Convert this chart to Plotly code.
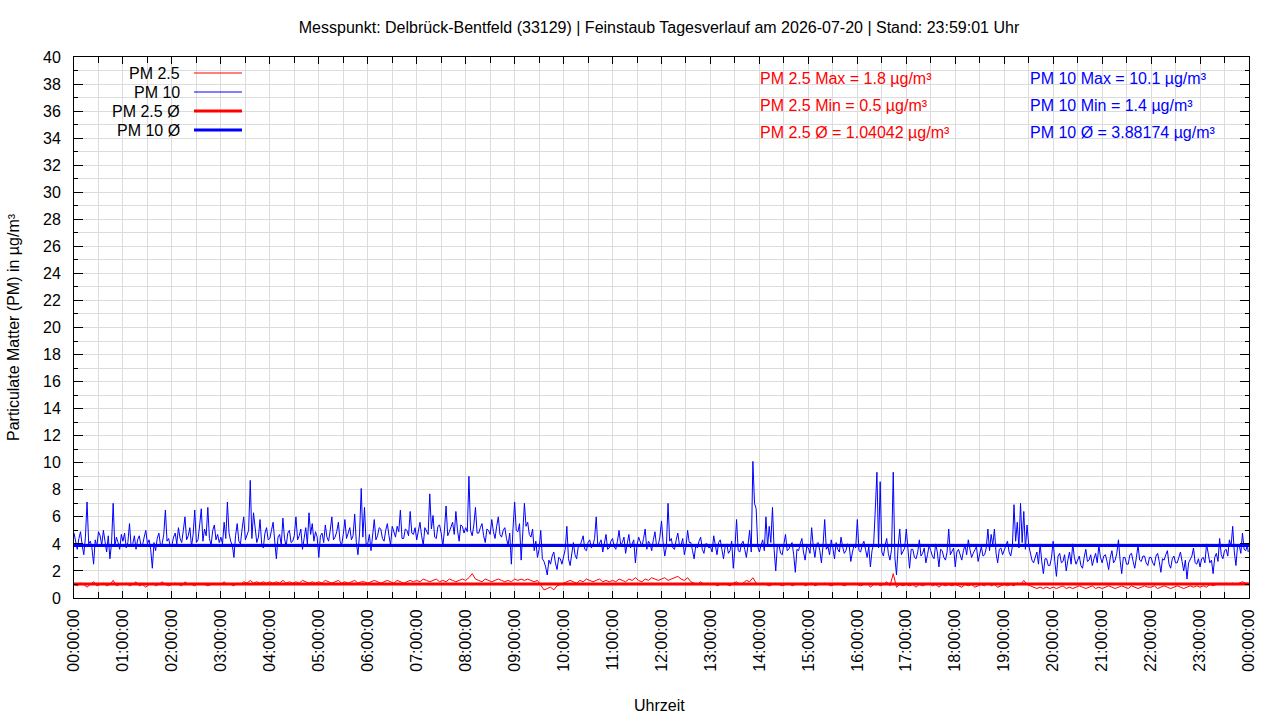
import plotly.graph_objects as go
from datetime import datetime, timedelta

# ---------------- data ----------------
DAY = "2026-07-20"
PM10_SAMPLE_MINUTES = 2     # PM 10: one reading every 2 minutes (30 per hour)
PM25_SAMPLE_MINUTES = 4     # PM 2.5: one reading every 4 minutes (15 per hour)
LAST_TIME = "2026-07-20 23:59:01"

# PM 10 readings, one row per hour (µg/m³)
pm10_rows = [
    [4.8, 4.1, 3.6, 4.4, 4.9, 3.9, 3.2, 4.5, 7.1, 4.0, 4.2, 3.7, 2.5, 4.3, 3.8, 4.9, 4.6, 3.9, 5.0, 4.2, 3.4, 4.6, 2.9, 4.0, 7.0, 3.8, 4.5, 4.1, 3.6, 4.7],
    [4.2, 4.8, 3.7, 4.1, 5.5, 3.8, 4.0, 4.6, 3.6, 4.3, 4.6, 3.9, 3.9, 4.5, 5.0, 4.0, 4.3, 3.6, 2.2, 4.1, 3.5, 4.4, 4.8, 3.9, 4.0, 4.7, 6.5, 4.2, 4.4, 3.8],
    [3.9, 4.5, 4.8, 4.0, 5.2, 4.4, 4.1, 5.0, 6.0, 4.3, 4.6, 5.2, 3.8, 4.7, 6.5, 4.1, 4.3, 5.4, 6.6, 4.2, 5.1, 4.6, 6.7, 4.4, 3.9, 5.0, 5.4, 4.3, 4.7, 4.1],
    [4.5, 4.0, 5.6, 4.4, 7.1, 4.8, 4.2, 3.9, 3.0, 4.6, 5.5, 4.2, 4.0, 5.1, 6.0, 4.3, 4.6, 5.0, 8.7, 4.4, 6.3, 4.9, 4.1, 4.5, 5.8, 4.0, 3.7, 4.8, 5.2, 4.3],
    [4.4, 5.0, 5.6, 4.2, 2.9, 4.5, 4.7, 3.9, 5.9, 4.4, 3.8, 4.8, 5.0, 4.1, 4.2, 4.6, 6.0, 4.3, 4.6, 5.1, 3.6, 4.4, 5.2, 4.0, 6.3, 4.7, 5.5, 4.2, 4.9, 4.5],
    [3.0, 4.6, 4.8, 4.1, 5.4, 4.5, 4.2, 5.0, 6.0, 4.3, 4.5, 4.9, 5.6, 4.2, 3.9, 4.7, 5.8, 4.4, 4.9, 5.2, 4.3, 4.6, 6.2, 4.1, 3.2, 4.8, 8.1, 4.5, 6.7, 4.0],
    [4.0, 4.7, 3.5, 4.9, 5.8, 4.3, 4.6, 5.2, 5.1, 4.4, 4.2, 5.0, 5.5, 4.6, 3.9, 5.3, 4.8, 4.5, 5.3, 4.9, 6.5, 4.4, 4.4, 5.1, 5.0, 4.6, 6.4, 4.8, 4.7, 5.2],
    [4.3, 5.0, 5.6, 4.6, 3.9, 5.2, 5.0, 4.7, 7.7, 5.1, 6.1, 4.5, 4.4, 5.3, 5.4, 4.8, 3.8, 5.0, 6.8, 4.6, 4.9, 5.3, 5.6, 4.7, 6.4, 5.0, 4.2, 5.4, 5.3, 4.8],
    [5.2, 4.9, 9.0, 5.0, 4.6, 5.4, 6.7, 4.8, 4.8, 5.2, 5.5, 4.6, 4.1, 5.1, 5.0, 4.7, 5.8, 4.9, 4.4, 5.3, 6.0, 4.7, 4.5, 5.0, 5.2, 4.4, 3.9, 4.8, 2.5, 5.1],
    [7.1, 5.0, 4.9, 5.5, 2.8, 4.8, 7.0, 5.3, 5.6, 4.7, 4.5, 5.1, 3.5, 4.2, 3.0, 3.6, 5.0, 2.9, 2.7, 2.3, 1.7, 2.8, 2.5, 3.1, 3.4, 2.6, 2.1, 3.0, 2.9, 2.5],
    [3.0, 3.6, 5.3, 2.9, 2.4, 3.5, 4.1, 3.2, 2.9, 3.8, 3.8, 4.2, 4.6, 3.6, 3.5, 4.1, 4.3, 3.7, 3.9, 4.4, 6.0, 3.8, 4.0, 4.3, 3.4, 4.0, 4.7, 3.6, 3.7, 4.2],
    [4.4, 3.8, 3.6, 4.2, 5.0, 3.9, 4.1, 4.5, 3.3, 4.0, 4.7, 3.7, 4.0, 4.3, 2.6, 3.9, 4.5, 4.1, 3.8, 4.4, 5.1, 3.6, 4.2, 4.0, 3.5, 4.3, 4.9, 3.8, 3.9, 4.5],
    [5.7, 4.1, 3.1, 3.8, 7.0, 4.2, 4.4, 3.7, 3.6, 4.3, 4.8, 3.9, 3.9, 4.4, 3.2, 3.8, 5.0, 4.1, 4.1, 3.5, 2.9, 3.9, 3.7, 4.2, 4.5, 3.6, 3.3, 4.0, 4.0, 3.7],
    [3.8, 3.4, 4.6, 3.9, 3.2, 4.1, 4.3, 3.6, 2.9, 3.8, 4.0, 3.3, 3.5, 4.2, 2.2, 3.7, 5.8, 3.5, 3.4, 4.0, 4.2, 3.6, 3.0, 3.9, 5.0, 3.4, 10.1, 7.0, 6.6, 3.8],
    [3.4, 3.9, 4.3, 3.5, 6.0, 3.8, 5.3, 4.1, 6.7, 3.6, 2.0, 3.9, 3.9, 3.3, 3.2, 4.0, 4.7, 3.5, 3.6, 3.9, 4.1, 3.2, 1.9, 3.6, 3.5, 4.0, 4.4, 3.4, 2.8, 3.8],
    [3.7, 3.3, 5.2, 3.8, 3.0, 4.0, 4.1, 3.5, 2.6, 3.9, 5.8, 3.6, 3.8, 3.2, 4.3, 3.7, 2.9, 4.1, 3.6, 3.4, 4.5, 3.8, 3.3, 3.5, 4.0, 3.9, 2.7, 3.4, 3.9, 3.7],
    [5.8, 3.5, 3.4, 3.9, 4.2, 3.6, 3.0, 3.8, 2.3, 3.5, 4.0, 6.5, 9.3, 3.7, 8.6, 3.4, 3.1, 3.9, 4.4, 3.3, 2.8, 3.6, 9.3, 3.0, 1.7, 3.8, 5.1, 3.2, 3.5, 3.7],
    [5.1, 3.3, 2.2, 3.6, 3.6, 3.0, 2.9, 3.4, 4.3, 3.1, 3.3, 3.7, 2.6, 3.2, 3.9, 3.5, 3.1, 2.9, 4.0, 3.4, 2.3, 3.6, 3.5, 3.0, 2.8, 3.4, 5.1, 3.2, 3.4, 3.7],
    [2.3, 3.4, 3.6, 3.1, 2.8, 3.5, 3.9, 3.2, 4.3, 3.6, 3.0, 3.3, 3.5, 3.8, 2.7, 3.4, 3.8, 3.1, 3.2, 3.7, 5.1, 3.5, 4.7, 3.9, 5.1, 3.3, 2.6, 3.6, 3.7, 3.2],
    [3.5, 3.9, 4.2, 3.4, 3.1, 3.8, 6.9, 4.2, 5.6, 3.7, 7.0, 4.1, 6.4, 3.6, 5.4, 3.9, 3.2, 2.8, 2.6, 3.1, 3.4, 2.5, 4.0, 2.7, 1.8, 2.9, 2.9, 2.4, 2.4, 3.0],
    [4.2, 2.7, 1.6, 3.1, 3.3, 2.6, 2.7, 3.2, 2.0, 2.8, 3.4, 2.5, 4.0, 3.0, 2.5, 2.8, 3.1, 2.4, 2.2, 3.0, 3.6, 2.7, 2.8, 3.2, 2.4, 2.9, 3.3, 2.6, 3.9, 3.0],
    [2.6, 3.1, 3.2, 2.7, 2.1, 3.0, 3.5, 2.6, 2.8, 3.3, 4.3, 2.8, 1.8, 3.0, 3.0, 2.5, 2.5, 3.2, 3.3, 2.7, 2.2, 3.0, 3.9, 2.8, 2.7, 3.1, 3.1, 2.6, 2.4, 3.0],
    [3.0, 2.6, 2.4, 3.1, 3.3, 2.7, 1.9, 2.9, 2.8, 3.2, 3.5, 2.5, 2.2, 2.9, 3.1, 2.6, 2.6, 3.0, 3.4, 2.7, 2.0, 2.8, 1.4, 2.6, 2.9, 3.1, 3.7, 2.6, 2.5, 2.9],
    [2.3, 2.9, 3.0, 2.6, 4.0, 3.1, 2.6, 2.8, 1.8, 3.0, 3.3, 2.7, 4.4, 3.2, 2.9, 3.5, 3.6, 3.1, 4.3, 3.8, 5.3, 3.4, 2.4, 3.9, 3.9, 3.3, 4.8, 3.6, 3.5, 3.9],
]
pm10_last = 3.4

# PM 2.5 readings, one row per hour (µg/m³)
pm25_rows = [
    [1.0, 0.9, 1.1, 1.0, 0.8, 1.0, 1.2, 0.9, 1.0, 1.1, 0.9, 1.0, 1.3, 0.9, 1.0],
    [1.0, 1.1, 0.9, 1.0, 1.2, 0.9, 1.0, 0.8, 1.0, 1.1, 0.9, 1.0, 1.2, 1.0, 0.9],
    [1.0, 1.1, 1.0, 0.9, 1.2, 1.0, 1.0, 0.9, 1.1, 1.0, 1.0, 0.9, 1.0, 1.1, 1.0],
    [1.0, 1.2, 1.0, 1.0, 0.9, 1.1, 1.0, 1.2, 1.1, 1.3, 1.1, 1.2, 1.1, 1.2, 1.1],
    [1.2, 1.1, 1.2, 1.1, 1.3, 1.1, 1.2, 1.1, 1.2, 1.1, 1.3, 1.2, 1.1, 1.2, 1.1],
    [1.2, 1.1, 1.3, 1.2, 1.1, 1.2, 1.3, 1.1, 1.2, 1.1, 1.2, 1.3, 1.1, 1.2, 1.2],
    [1.1, 1.2, 1.3, 1.2, 1.1, 1.2, 1.3, 1.2, 1.1, 1.3, 1.2, 1.1, 1.2, 1.3, 1.2],
    [1.3, 1.2, 1.4, 1.3, 1.2, 1.3, 1.4, 1.2, 1.3, 1.2, 1.4, 1.3, 1.2, 1.3, 1.4],
    [1.3, 1.5, 1.8, 1.4, 1.3, 1.2, 1.4, 1.3, 1.2, 1.3, 1.4, 1.3, 1.2, 1.3, 1.2],
    [1.4, 1.3, 1.4, 1.3, 1.4, 1.3, 1.2, 1.3, 0.9, 0.6, 0.7, 0.8, 0.6, 0.9, 1.0],
    [1.1, 1.2, 1.3, 1.2, 1.1, 1.3, 1.2, 1.4, 1.3, 1.2, 1.3, 1.4, 1.2, 1.3, 1.2],
    [1.3, 1.2, 1.4, 1.3, 1.2, 1.4, 1.3, 1.5, 1.3, 1.2, 1.4, 1.3, 1.5, 1.4, 1.3],
    [1.4, 1.5, 1.3, 1.4, 1.5, 1.6, 1.4, 1.3, 1.5, 1.2, 1.1, 1.0, 1.2, 1.0, 1.1],
    [1.0, 1.1, 0.9, 1.0, 1.1, 1.0, 0.9, 1.1, 1.2, 1.0, 1.1, 1.3, 1.2, 1.5, 1.1],
    [1.0, 1.1, 1.0, 0.9, 1.0, 1.1, 1.0, 0.9, 1.0, 1.1, 0.9, 1.0, 1.0, 1.1, 0.9],
    [1.0, 1.1, 0.9, 1.0, 1.0, 1.1, 1.0, 0.9, 1.0, 1.1, 1.0, 0.9, 1.0, 1.0, 1.1],
    [1.0, 0.9, 1.0, 1.1, 0.8, 1.0, 1.1, 0.9, 1.0, 1.2, 0.9, 1.8, 0.8, 1.0, 0.9],
    [1.0, 0.9, 1.0, 0.8, 1.0, 0.9, 1.0, 1.1, 0.9, 1.0, 0.8, 1.0, 0.9, 1.0, 0.9],
    [1.0, 0.9, 0.8, 1.0, 0.9, 1.0, 0.8, 0.9, 1.0, 0.9, 1.1, 0.9, 1.0, 0.8, 0.9],
    [1.0, 0.9, 1.0, 0.9, 1.1, 1.0, 1.3, 1.0, 0.9, 0.8, 0.7, 0.8, 0.7, 0.8, 0.7],
    [0.8, 0.7, 0.8, 0.9, 0.7, 0.8, 0.7, 0.8, 0.9, 0.8, 0.7, 0.8, 0.9, 0.7, 0.8],
    [0.7, 0.8, 0.9, 0.8, 0.7, 0.8, 0.9, 0.8, 0.7, 0.9, 0.8, 0.7, 0.8, 0.9, 0.8],
    [0.8, 0.9, 0.7, 0.8, 0.9, 0.8, 0.7, 0.8, 0.9, 0.8, 0.7, 0.8, 0.9, 0.8, 0.9],
    [0.8, 0.9, 0.8, 1.0, 0.9, 1.0, 1.1, 1.0, 1.1, 1.0, 1.1, 1.0, 1.1, 1.2, 1.1],
]
pm25_last = 1.1

# daily statistics (as printed on the chart)
PM25_MAX, PM25_MIN, PM25_AVG = 1.8, 0.5, 1.04042
PM10_MAX, PM10_MIN, PM10_AVG = 10.1, 1.4, 3.88174

TITLE = ("Messpunkt: Delbrück-Bentfeld (33129) | Feinstaub Tagesverlauf am "
         "2026-07-20 | Stand: 23:59:01 Uhr")
Y_TITLE = "Particulate Matter (PM) in µg/m³"
X_TITLE = "Uhrzeit"
LEGEND_NAMES = ["PM 2.5", "PM 10", "PM 2.5 Ø", "PM 10 Ø"]

# ---------------- build series ----------------
start = datetime.fromisoformat(DAY + " 00:00:00")
end = start + timedelta(days=1)
last_t = datetime.fromisoformat(LAST_TIME)


def build(rows, step, last):
    ts, vs = [], []
    for h, row in enumerate(rows):
        for i, v in enumerate(row):
            ts.append(start + timedelta(hours=h, minutes=i * step))
            vs.append(v)
    ts.append(last_t)
    vs.append(last)
    return ts, vs


t10, pm10 = build(pm10_rows, PM10_SAMPLE_MINUTES, pm10_last)
t25, pm25 = build(pm25_rows, PM25_SAMPLE_MINUTES, pm25_last)

RED = "#ff0000"
BLUE = "#0000ff"
FONT = "Liberation Sans, Arial, sans-serif"

fig = go.Figure()
fig.add_trace(go.Scatter(x=t25, y=pm25, mode="lines", name=LEGEND_NAMES[0],
                         line=dict(color=RED, width=1)))
fig.add_trace(go.Scatter(x=t10, y=pm10, mode="lines", name=LEGEND_NAMES[1],
                         line=dict(color=BLUE, width=1)))
fig.add_trace(go.Scatter(x=[start, end], y=[PM25_AVG, PM25_AVG], mode="lines",
                         name=LEGEND_NAMES[2], line=dict(color=RED, width=3)))
fig.add_trace(go.Scatter(x=[start, end], y=[PM10_AVG, PM10_AVG], mode="lines",
                         name=LEGEND_NAMES[3], line=dict(color=BLUE, width=3)))

# plot area in pixels
L, R, T, B = 74, 1249, 57, 598
W, H = R - L, B - T


def px(xp):
    return (xp - L) / W


def py(yp):
    return (B - yp) / H


annotations = []
shapes = []
# gnuplot-style key (text right-aligned, line sample on the right)
leg_styles = [(RED, 1), (BLUE, 1), (RED, 3), (BLUE, 3)]
for k, (name, (col, w)) in enumerate(zip(LEGEND_NAMES, leg_styles)):
    yy = 73 + k * 19
    annotations.append(dict(x=px(182), y=py(yy), xref="paper", yref="paper",
                            text=name, showarrow=False, xanchor="right",
                            yanchor="middle", font=dict(size=16, color="black")))
    shapes.append(dict(type="line", xref="paper", yref="paper",
                       x0=px(194), x1=px(242), y0=py(yy), y1=py(yy),
                       line=dict(color=col, width=w)))

stats_red = [f"PM 2.5 Max = {PM25_MAX} µg/m³", f"PM 2.5 Min = {PM25_MIN} µg/m³",
             f"PM 2.5 Ø = {PM25_AVG} µg/m³"]
stats_blue = [f"PM 10 Max = {PM10_MAX} µg/m³", f"PM 10 Min = {PM10_MIN} µg/m³",
              f"PM 10 Ø = {PM10_AVG} µg/m³"]
for k, (tr, tb) in enumerate(zip(stats_red, stats_blue)):
    yy = 78 + k * 27
    annotations.append(dict(x=px(758), y=py(yy), xref="paper", yref="paper",
                            text=tr, showarrow=False, xanchor="left",
                            yanchor="middle", font=dict(size=16, color=RED)))
    annotations.append(dict(x=px(1028), y=py(yy), xref="paper", yref="paper",
                            text=tb, showarrow=False, xanchor="left",
                            yanchor="middle", font=dict(size=16, color=BLUE)))

annotations.append(dict(x=px(659), y=py(705), xref="paper", yref="paper",
                        text=X_TITLE, showarrow=False, xanchor="center",
                        yanchor="middle", font=dict(size=16, color="black")))

GRID = "#dcdcdc"
fig.update_layout(
    width=1280, height=720,
    margin=dict(l=L, r=1280 - R, t=T, b=720 - B, pad=0),
    paper_bgcolor="white", plot_bgcolor="white",
    font=dict(family=FONT, size=16, color="black"),
    showlegend=False,
    title=dict(text=TITLE, x=px(659), xanchor="center", xref="paper",
               y=1 - 27 / 720, yanchor="middle", yref="container",
               font=dict(size=16, color="black")),
    annotations=annotations,
    shapes=shapes,
)

fig.update_xaxes(
    type="date", range=[start, end],
    tickformat="%H:%M:%S", dtick=3600000, tick0=start,
    tickangle=-90, tickfont=dict(size=16), ticklabelstandoff=4,
    ticks="inside", ticklen=7, tickcolor="black",
    showline=True, linecolor="black", linewidth=1, mirror="allticks",
    showgrid=True, gridcolor=GRID, gridwidth=1,
    minor=dict(dtick=1800000, tick0=start, ticks="inside", ticklen=6,
               tickcolor="black", showgrid=True, gridcolor=GRID),
    zeroline=False,
)
fig.update_yaxes(
    range=[0, 40], dtick=2, tick0=0,
    tickfont=dict(size=16), ticklabelstandoff=9,
    ticks="inside", ticklen=9, tickcolor="black",
    showline=True, linecolor="black", linewidth=1, mirror="allticks",
    showgrid=True, gridcolor=GRID, gridwidth=1,
    minor=dict(dtick=1, ticks="inside", ticklen=4, tickcolor="black",
               showgrid=True, gridcolor=GRID),
    zeroline=False,
    title=dict(text=Y_TITLE, font=dict(size=16), standoff=19),
)

fig.write_html("out.html",
               config={"displayModeBar": False},
               post_script="document.body.style.margin='0';"
                           "document.body.style.padding='0';")
